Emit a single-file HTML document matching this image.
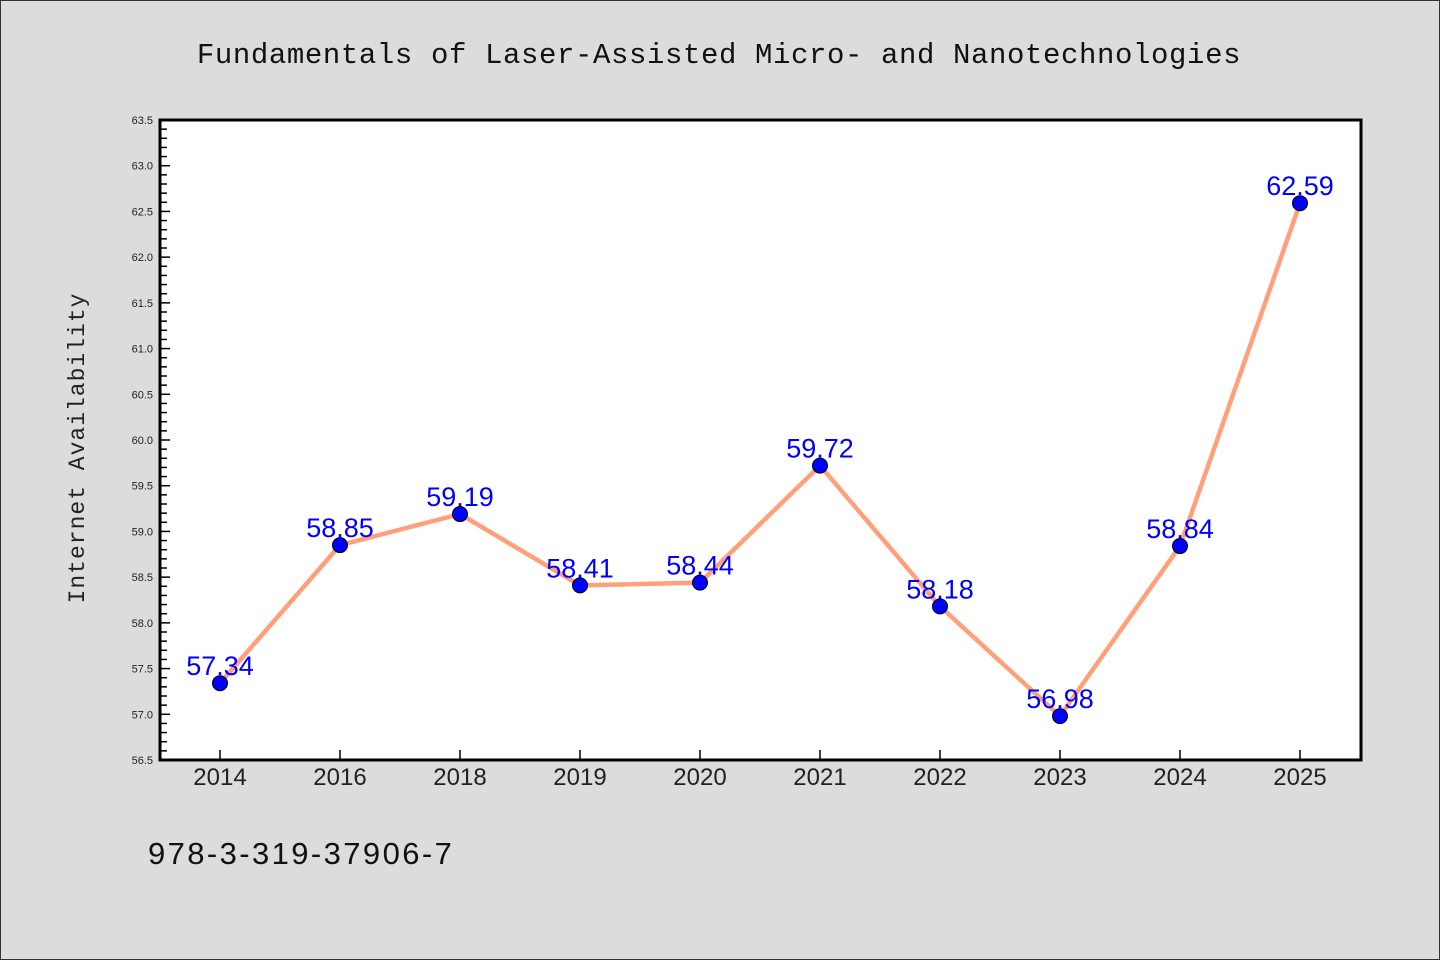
<!DOCTYPE html>
<html><head><meta charset="utf-8"><style>
html,body{margin:0;padding:0;background:#dcdcdc;}
svg{display:block;}
</style></head><body>
<svg id="chart" width="1440" height="960" xmlns="http://www.w3.org/2000/svg">
<rect x="0.5" y="0.5" width="1439" height="959" fill="#dcdcdc" stroke="#333"/>
<text x="719" y="63" text-anchor="middle" font-family="'Liberation Mono', monospace" font-size="29" letter-spacing="0.6" fill="#111">Fundamentals of Laser-Assisted Micro- and Nanotechnologies</text>
<rect x="160" y="120" width="1201" height="640" fill="#fff"/>
<g id="yticks"></g><g id="xticks"></g>
<g id="series"></g>
<rect x="160" y="120" width="1201" height="640" fill="none" stroke="#000" stroke-width="3"/>
<text transform="translate(84,448) rotate(-90)" text-anchor="middle" font-family="'Liberation Mono', monospace" font-size="23" letter-spacing="1" fill="#222">Internet Availability</text>
<text x="148" y="864" font-family="'Liberation Sans', sans-serif" font-size="31" letter-spacing="2.4" fill="#111">978-3-319-37906-7</text>
</svg>
<script>
const categories = ["2014","2016","2018","2019","2020","2021","2022","2023","2024","2025"];
const values = [57.34,58.85,59.19,58.41,58.44,59.72,58.18,56.98,58.84,62.59];
const yTickLabels = ["56.5","57.0","57.5","58.0","58.5","59.0","59.5","60.0","60.5","61.0","61.5","62.0","62.5","63.0","63.5"];
const NS="http://www.w3.org/2000/svg";
const yMin=56.5,yMax=63.5,plotTop=120,plotBot=760,plotLeft=160;
function y(v){return plotBot-(v-yMin)/(yMax-yMin)*(plotBot-plotTop);}
function x(i){return 220+i*120;}
function mk(t,a,p){const e=document.createElementNS(NS,t);for(const k in a)e.setAttribute(k,a[k]);p.appendChild(e);return e;}
const yt=document.getElementById('yticks');
for(let k=0;k<=70;k++){const v=yMin+k*0.1;const major=k%5===0;
 const l=mk('line',{x1:plotLeft,x2:plotLeft+(major?10:7),y1:y(v),y2:y(v),stroke:'#000','stroke-width':1.5},yt);
 
 }
yTickLabels.forEach(s=>{const t=mk('text',{x:153,y:y(parseFloat(s))+4,'text-anchor':'end','font-family':"'Liberation Sans', sans-serif",'font-size':11,fill:'#222'},yt);t.textContent=s;
 
 });
const xt=document.getElementById('xticks');
categories.forEach((c,i)=>{const l=mk('line',{x1:x(i),x2:x(i),y1:plotBot,y2:plotBot-10,stroke:'#000','stroke-width':1.5},xt);
 
 
 const t=mk('text',{x:x(i),y:785,'text-anchor':'middle','font-family':"'Liberation Sans', sans-serif",'font-size':24,fill:'#222'},xt);t.textContent=c;
 
 });
const g=document.getElementById('series');
const pl=mk('polyline',{points:values.map((v,i)=>x(i)+','+y(v)).join(' '),fill:'none',stroke:'#ffa07a','stroke-width':4.5,'stroke-linejoin':'round'},g);


values.forEach((v,i)=>{
 const t=mk('text',{x:x(i),y:y(v)-8,'text-anchor':'middle','font-family':"'Liberation Sans', sans-serif",'font-size':27,fill:'#0000ff'},g);t.textContent=v.toFixed(2);
 
 
 const c=mk('circle',{cx:x(i),cy:y(v),r:7.5,fill:'#0000ff',stroke:'#000','stroke-width':1},g);
 
 
});
</script>
</body></html>
